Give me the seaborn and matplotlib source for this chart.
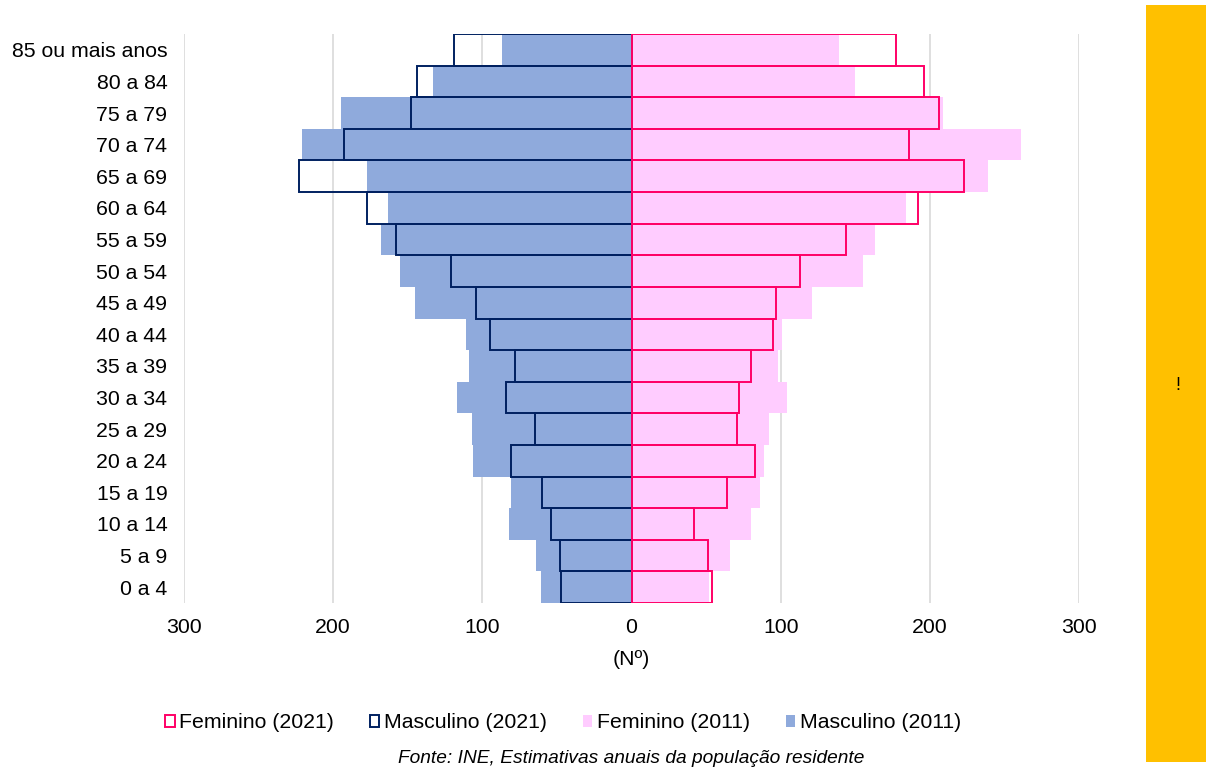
import matplotlib
matplotlib.use("Agg")
import matplotlib.pyplot as plt
from matplotlib.patches import Patch, Rectangle
from matplotlib.ticker import FuncFormatter
import seaborn as sns
import pandas as pd

# Age groups, youngest first
age_groups = ["0 a 4", "5 a 9", "10 a 14", "15 a 19", "20 a 24", "25 a 29",
              "30 a 34", "35 a 39", "40 a 44", "45 a 49", "50 a 54", "55 a 59",
              "60 a 64", "65 a 69", "70 a 74", "75 a 79", "80 a 84",
              "85 ou mais anos"]

# Resident population (Nº) by sex and age group
masculino_2011 = [61, 64, 82, 81, 106, 107, 117, 109, 111, 145, 155, 168,
                  163, 177, 221, 195, 133, 87]
masculino_2021 = [47, 48, 54, 60, 81, 65, 84, 78, 95, 104, 121, 158,
                  177, 223, 193, 148, 144, 119]
feminino_2011 = [52, 66, 80, 86, 89, 92, 104, 98, 101, 121, 155, 163,
                 184, 239, 261, 209, 150, 139]
feminino_2021 = [54, 51, 42, 64, 83, 71, 72, 80, 95, 97, 113, 144,
                 192, 223, 186, 206, 196, 177]

x_ticks = [-300, -200, -100, 0, 100, 200, 300]
x_label = "(Nº)"
source_text = "Fonte: INE, Estimativas anuais da população residente"
legend_labels = ["Feminino (2021)", "Masculino (2021)",
                 "Feminino (2011)", "Masculino (2011)"]

COL_M11 = "#8FAADC"
COL_M21 = "#002060"
COL_F11 = "#FFCCFF"
COL_F21 = "#FF0066"
COL_GRID = "#D9D9D9"
FS = 15.3

sns.set_theme(style="white")
plt.rcParams["font.family"] = ["Liberation Sans", "DejaVu Sans"]
plt.rcParams["text.color"] = "black"
plt.rcParams["axes.labelcolor"] = "black"

df = pd.DataFrame({
    "idade": age_groups,
    "m2011": [-v for v in masculino_2011],
    "m2021": [-v for v in masculino_2021],
    "f2011": feminino_2011,
    "f2021": feminino_2021,
})
order = age_groups[::-1]

W, H = 1206, 769
fig = plt.figure(figsize=(W / 100, H / 100), dpi=100)
ax = fig.add_axes([184 / W, 1 - 603 / H, (1079 - 184) / W, (603 - 34) / H])

# 2011 pyramid as filled bars
sns.barplot(data=df, x="m2011", y="idade", order=order, orient="y",
            color=COL_M11, saturation=1, width=1, linewidth=0, ax=ax, zorder=2)
sns.barplot(data=df, x="f2011", y="idade", order=order, orient="y",
            color=COL_F11, saturation=1, width=1, linewidth=0, ax=ax, zorder=2)
# 2021 pyramid as outlines
sns.barplot(data=df, x="m2021", y="idade", order=order, orient="y",
            color=COL_M21, saturation=1, width=1, fill=False, linewidth=1.4,
            ax=ax, zorder=4)
sns.barplot(data=df, x="f2021", y="idade", order=order, orient="y",
            color=COL_F21, saturation=1, width=1, fill=False, linewidth=1.4,
            ax=ax, zorder=4)

ax.set_xlim(-300, 300)
ax.set_ylim(len(order) - 0.5, -0.5)
ax.set_xticks(x_ticks)
ax.xaxis.set_major_formatter(FuncFormatter(lambda v, p: f"{abs(v):.0f}"))
for v in x_ticks:
    if v != 0:
        ax.axvline(v, color=COL_GRID, lw=1.2, zorder=1)
ax.axvline(0, color="#C8C8C8", lw=1.2, zorder=3)

for s in ax.spines.values():
    s.set_visible(False)
ax.tick_params(axis="both", length=0, labelsize=FS, colors="black")
ax.tick_params(axis="x", pad=11)
ax.tick_params(axis="y", pad=12)
ax.set_ylabel("")
ax.set_xlabel(x_label, fontsize=FS, labelpad=9)

handles = [
    Patch(facecolor="white", edgecolor=COL_F21, linewidth=1.4),
    Patch(facecolor="white", edgecolor=COL_M21, linewidth=1.4),
    Patch(facecolor=COL_F11, edgecolor="none"),
    Patch(facecolor=COL_M11, edgecolor="none"),
]
fig.legend(handles, legend_labels, loc="center", ncol=4, frameon=False,
           bbox_to_anchor=(563 / W, 1 - 723 / H), fontsize=FS,
           handlelength=0.45, handleheight=0.45, handletextpad=0.2,
           columnspacing=1.7)

fig.text(631 / W, 1 - 767 / H, source_text, ha="center", va="bottom",
         fontsize=FS - 1.5, style="italic")

# Side banner
fig.patches.append(Rectangle((1146 / W, 1 - 762 / H), 60 / W, 757 / H,
                             transform=fig.transFigure, facecolor="#FFC000",
                             edgecolor="none", zorder=0))
fig.text(1178 / W, 1 - 385 / H, "!", ha="center", va="center", fontsize=13)

fig.savefig("out.png", dpi=100)
